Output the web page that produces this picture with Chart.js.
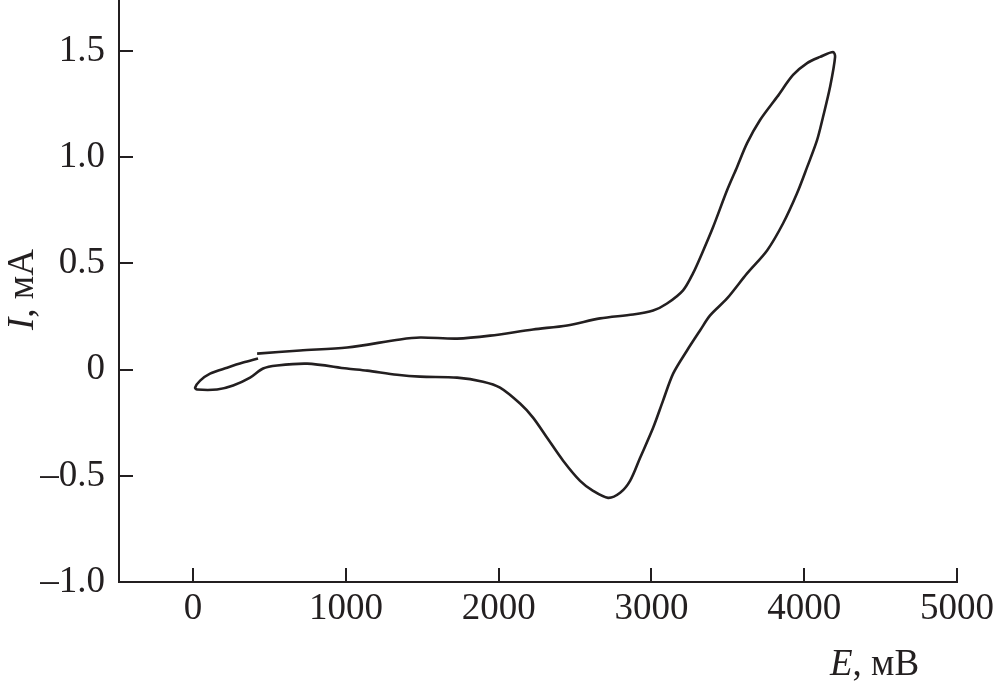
<!DOCTYPE html>
<html>
<head>
<meta charset="utf-8">
<script src="https://cdn.jsdelivr.net/npm/chart.js@4.4.0/dist/chart.umd.min.js"></script>
<style>
  html, body { margin: 0; padding: 0; background: #fff; }
  #wrap { width: 998px; height: 682px; }
</style>
</head>
<body>
<div id="wrap"><canvas id="cv" width="998" height="682"></canvas></div>
<script>
// potential E (mV) and current I (mA)
const scanE = [419, 700, 1008, 1355, 1486, 1728, 1944, 2225, 2448, 2664, 2880, 3011, 3102, 3207, 3272, 3331,
  3403, 3495, 3560, 3626, 3711, 3822, 3927, 4019, 4104, 4189,
  4202, 4169, 4123, 4084, 4019, 3953, 3862, 3757, 3626, 3495, 3384, 3318, 3233, 3142, 3076, 3011,
  2926, 2860, 2795, 2716, 2618, 2533, 2422, 2317, 2225, 2140, 2009, 1898, 1728, 1486, 1335, 1139,
  1008, 746, 550, 458, 373, 262, 157, 26, 13, 46, 111, 223, 327, 425];
const scanI = [0.075, 0.09, 0.104, 0.142, 0.151, 0.146, 0.160, 0.189, 0.208, 0.241, 0.259, 0.278, 0.311, 0.373, 0.453, 0.547,
  0.670, 0.844, 0.953, 1.066, 1.175, 1.283, 1.387, 1.443, 1.472, 1.495,
  1.472, 1.330, 1.189, 1.080, 0.953, 0.830, 0.689, 0.561, 0.453, 0.335, 0.255, 0.184, 0.090, -0.019, -0.146, -0.274,
  -0.415, -0.524, -0.580, -0.604, -0.571, -0.524, -0.429, -0.321, -0.226, -0.160, -0.085, -0.057, -0.038, -0.033, -0.024, -0.005,
  0.005, 0.028, 0.019, 0.005, -0.038, -0.075, -0.094, -0.094, -0.085, -0.052, -0.019, 0.009, 0.033, 0.052];

const xTicks = [0, 1000, 2000, 3000, 4000, 5000];
const yTicks = [-1.0, -0.5, 0, 0.5, 1.0, 1.5];
const yTickLabels = ['–1.0', '–0.5', '0', '0.5', '1.0', '1.5'];

const ink = '#231f20';
const serif = '"Liberation Serif", "Times New Roman", serif';

const points = scanE.map((e, i) => ({ x: e, y: scanI[i] }));

// inward tick marks + axis titles
const extras = {
  id: 'extras',
  afterDraw(chart) {
    const ctx = chart.ctx;
    const xs = chart.scales.x, ys = chart.scales.y;
    const area = chart.chartArea;
    ctx.save();
    ctx.strokeStyle = ink;
    ctx.lineWidth = 2;
    xTicks.forEach(v => {
      const px = Math.round(xs.getPixelForValue(v));
      ctx.beginPath();
      ctx.moveTo(px, area.bottom);
      ctx.lineTo(px, area.bottom - 14);
      ctx.stroke();
    });
    yTicks.forEach(v => {
      const py = Math.round(ys.getPixelForValue(v));
      ctx.beginPath();
      ctx.moveTo(area.left, py);
      ctx.lineTo(area.left + 14, py);
      ctx.stroke();
    });

    ctx.fillStyle = ink;
    ctx.textBaseline = 'alphabetic';
    ctx.textAlign = 'left';
    // E, мВ
    ctx.font = 'italic 37px ' + serif;
    ctx.fillText('E', 830, 675);
    let w = ctx.measureText('E').width;
    ctx.font = '37px ' + serif;
    ctx.fillText(', мВ', 830 + w, 675);
    // I, мА (rotated)
    ctx.translate(33, 330);
    ctx.rotate(-Math.PI / 2);
    ctx.font = 'italic 37px ' + serif;
    ctx.fillText('I', 0, 0);
    w = ctx.measureText('I').width;
    ctx.font = '37px ' + serif;
    ctx.fillText(', мА', w, 0);
    ctx.restore();
  }
};

new Chart(document.getElementById('cv'), {
  type: 'scatter',
  data: {
    datasets: [{
      data: points,
      showLine: true,
      borderColor: ink,
      borderWidth: 2.6,
      pointRadius: 0,
      tension: 0.3,
      fill: false
    }]
  },
  options: {
    responsive: false,
    animation: false,
    layout: { padding: { top: 0, right: 41, left: 0, bottom: 0 } },
    plugins: { legend: { display: false }, tooltip: { enabled: false } },
    scales: {
      x: {
        type: 'linear',
        min: -485,
        max: 5000,
        afterBuildTicks: s => { s.ticks = xTicks.map(v => ({ value: v })); },
        afterFit: s => { s.height = 100; s.paddingLeft = 0; s.paddingRight = 0; },
        grid: { drawOnChartArea: false, drawTicks: false },
        border: { display: true, color: ink, width: 2 },
        ticks: {
          color: ink,
          padding: 5,
          maxRotation: 0,
          font: { family: serif, size: 37 },
          callback: v => String(v)
        }
      },
      y: {
        type: 'linear',
        min: -1.0,
        max: 1.74,
        afterBuildTicks: s => { s.ticks = yTicks.map(v => ({ value: v })); },
        afterFit: s => { s.width = 119; s.paddingTop = 0; s.paddingBottom = 0; },
        grid: { drawOnChartArea: false, drawTicks: false },
        border: { display: true, color: ink, width: 2 },
        ticks: {
          color: ink,
          padding: 14,
          font: { family: serif, size: 37 },
          callback: v => yTickLabels[yTicks.indexOf(v)] ?? ''
        }
      }
    }
  },
  plugins: [extras]
});
</script>
</body>
</html>
